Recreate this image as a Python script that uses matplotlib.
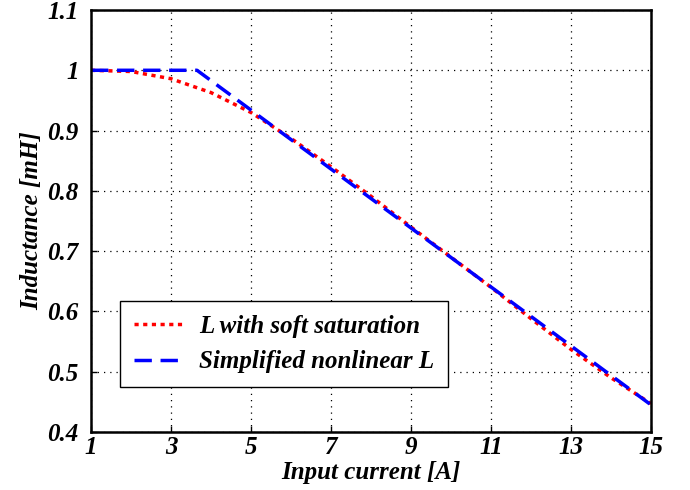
import matplotlib
matplotlib.use("Agg")
import matplotlib.pyplot as plt
import numpy as np

plt.rcParams["font.family"] = "Liberation Serif"
plt.rcParams["font.weight"] = "bold"
plt.rcParams["font.style"] = "italic"
plt.rcParams["axes.labelweight"] = "bold"

# input current [A]
current = [1, 2, 3, 4, 5, 6, 7, 8, 9, 10, 11, 12, 13, 14, 15]
# L with soft saturation [mH]
l_soft = [1.0, 0.998, 0.986, 0.963, 0.930, 0.887, 0.840, 0.791, 0.740, 0.690,
          0.640, 0.588, 0.537, 0.490, 0.447]
# simplified nonlinear L [mH]
current_simp = [1, 3.65, 15]
l_simp = [1.0, 1.0, 0.445]

x_ticks = [1, 3, 5, 7, 9, 11, 13, 15]
y_ticks = [0.4, 0.5, 0.6, 0.7, 0.8, 0.9, 1.0, 1.1]
y_labels = ["0.4", "0.5", "0.6", "0.7", "0.8", "0.9", "1", "1.1"]

fig = plt.figure(figsize=(6.9, 4.9), dpi=100)
ax = fig.add_axes([91 / 690, 58 / 490, 560 / 690, 422 / 490])

ax.plot(current, l_soft, color="red", linestyle=(0, (1.2, 1.3)), linewidth=2.5,
        label="L with soft saturation")
ax.plot(current_simp, l_simp, color="blue", linestyle=(0, (5, 2.5)), linewidth=2.5,
        label="Simplified nonlinear L")

ax.set_xlim(1, 15)
ax.set_ylim(0.4, 1.1)
ax.set_xticks(x_ticks)
ax.set_xticklabels([str(t) for t in x_ticks], fontweight="bold")
ax.set_yticks(y_ticks)
ax.set_yticklabels(y_labels, fontweight="bold")
ax.tick_params(direction="in", labelsize=18, length=4, width=1,
               top=False, right=False)
ax.tick_params(axis="x", pad=3)
ax.tick_params(axis="y", pad=9)
ax.grid(True, color="black", linestyle=(0, (1, 4)), linewidth=0.9)
for s in ax.spines.values():
    s.set_linewidth(1.8)

ax.set_xlabel("Input current [A]", fontsize=18, fontweight="bold")
ax.xaxis.set_label_coords(0.5, -29 / 422)
ax.set_ylabel("Inductance [mH]", fontsize=18, fontweight="bold", labelpad=3)

leg = ax.legend(loc="lower left", bbox_to_anchor=(29 / 560, 45 / 422),
                borderaxespad=0,
                prop={"size": 18, "weight": "bold", "style": "italic"},
                fancybox=False, edgecolor="black", framealpha=1,
                handlelength=2.0, handletextpad=0.6, borderpad=0.55,
                labelspacing=0.5)
leg.get_frame().set_linewidth(1.0)

plt.savefig("out.png", dpi=100)
